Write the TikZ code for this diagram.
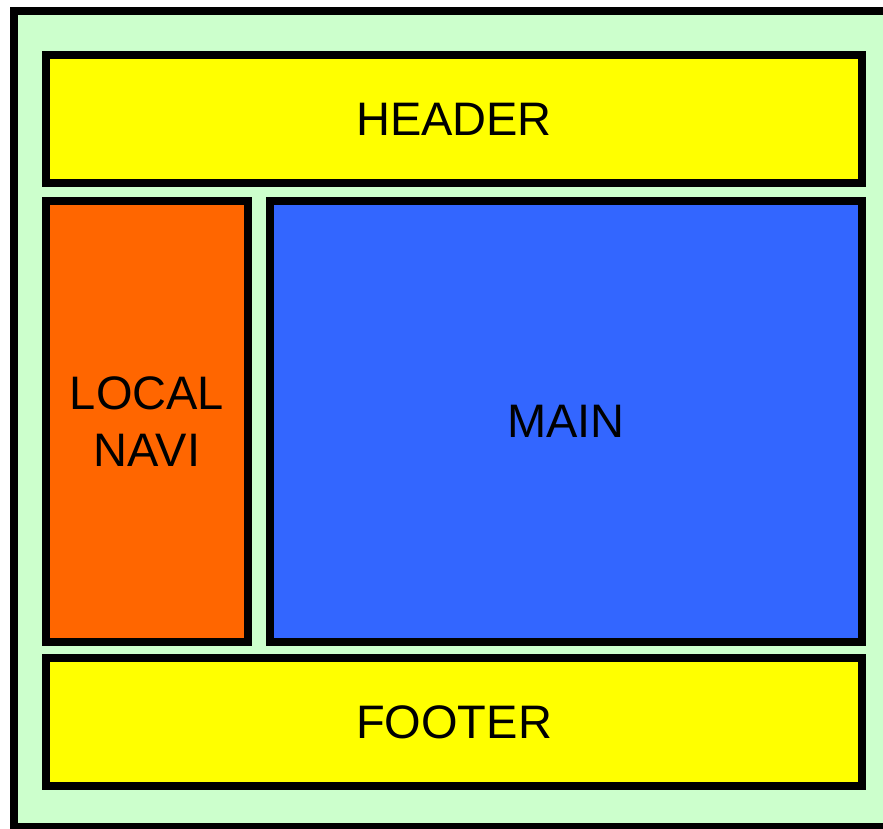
\documentclass[tikz,border=0pt]{standalone}
\usepackage{fontspec}
\setmainfont{Liberation Sans}
\definecolor{bggreen}{HTML}{CCFFCC}
\definecolor{hdryellow}{HTML}{FFFF00}
\definecolor{navorange}{HTML}{FF6600}
\definecolor{mainblue}{HTML}{3366FF}
\begin{document}
\begin{tikzpicture}[x=1pt,y=-1pt,
  box/.style={draw=black,line width=8pt,inner sep=0pt,outer sep=0pt,
    align=center,font=\fontsize{47}{57}\selectfont},
]
\useasboundingbox (0,0) rectangle (883,829);
\begin{scope}
\clip (0,0) rectangle (883,829);
\node[box,fill=bggreen,minimum width=900pt,minimum height=816pt,anchor=north west] (outer) at (14,11) {};
\end{scope}
\node[box,fill=hdryellow,minimum width=816pt,minimum height=128pt] (header) at (454,119.5) {HEADER};
\node[box,fill=navorange,minimum width=202pt,minimum height=441pt] (navi) at (147,421.5) {LOCAL\\NAVI};
\node[box,fill=mainblue,minimum width=592pt,minimum height=441pt] (main) at (566,421.5) {MAIN};
\node[box,fill=hdryellow,minimum width=816pt,minimum height=128pt] (footer) at (454,722) {FOOTER};
\end{tikzpicture}
\end{document}
